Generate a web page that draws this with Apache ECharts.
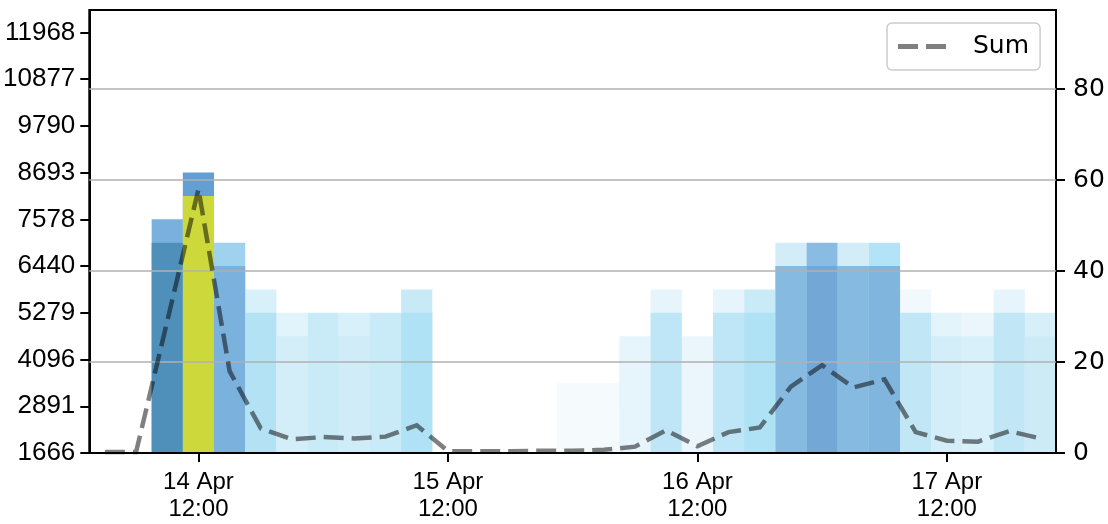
<!DOCTYPE html>
<html>
<head>
<meta charset="utf-8">
<script src="https://cdn.jsdelivr.net/npm/echarts@6/dist/echarts.min.js"></script>
<style>
html,body{margin:0;padding:0;background:#ffffff;}
#chart{width:1108px;height:524px;}
</style>
</head>
<body>
<div id="chart"></div>
<script>
// ---- data ----
const times = [
  '2024-04-14 03:00','2024-04-14 06:00','2024-04-14 09:00','2024-04-14 12:00','2024-04-14 15:00','2024-04-14 18:00','2024-04-14 21:00',
  '2024-04-15 00:00','2024-04-15 03:00','2024-04-15 06:00','2024-04-15 09:00','2024-04-15 12:00','2024-04-15 15:00','2024-04-15 18:00','2024-04-15 21:00',
  '2024-04-16 00:00','2024-04-16 03:00','2024-04-16 06:00','2024-04-16 09:00','2024-04-16 12:00','2024-04-16 15:00','2024-04-16 18:00','2024-04-16 21:00',
  '2024-04-17 00:00','2024-04-17 03:00','2024-04-17 06:00','2024-04-17 09:00','2024-04-17 12:00','2024-04-17 15:00','2024-04-17 18:00','2024-04-17 21:00'
];
// "Sum" dashed line (right axis)
const sumValues = [
  0.2, 0.2, 29, 58, 18, 5.4, 3.0,
  3.5, 3.2, 3.6, 6.1, 0.4, 0.4, 0.4, 0.5,
  0.5, 0.7, 1.4, 5.0, 1.5, 4.6, 5.6, 14.6,
  19.3, 14.4, 16.2, 4.6, 2.7, 2.5, 4.8, 3.2
];
// column heights on the left axis (tick-index units): full column and its lower block
const barTop = [
  0, 0, 5.0, 6.0, 4.5, 3.5, 3.0,
  3.0, 3.0, 3.0, 3.5, 0, 0, 0, 0,
  1.5, 1.5, 2.5, 3.5, 2.5, 3.5, 3.5, 4.5,
  4.5, 4.5, 4.5, 3.5, 3.0, 3.0, 3.5, 3.0
];
const barLower = [
  0, 0, 4.5, 5.5, 4.0, 3.0, 2.5,
  2.5, 2.5, 2.5, 3.0, 0, 0, 0, 0,
  1.0, 1.0, 2.0, 3.0, 2.0, 3.0, 3.0, 4.0,
  4.0, 4.0, 4.0, 3.0, 2.5, 2.5, 3.0, 2.5
];
const leftTickLabels = ['1666','2891','4096','5279','6440','7578','8693','9790','10877','11968'];
const rightTickValues = [0, 20, 40, 60, 80];
const xTickTimes = ['2024-04-14 12:00','2024-04-15 12:00','2024-04-16 12:00','2024-04-17 12:00'];
const xRange = ['2024-04-14 01:30','2024-04-17 22:30'];
const monthNames = ['Jan','Feb','Mar','Apr','May','Jun','Jul','Aug','Sep','Oct','Nov','Dec'];

// ---- styles ----
const lowerColors = [
  '#ffffff','#ffffff','#4f90bb','#cdd93b','#7ab1dd','#b3e2f5','#d3eef9',
  '#c9ebf7','#cfecf8','#c9ebf7','#b0e2f6','#ffffff','#ffffff','#ffffff','#ffffff',
  '#f5fafd','#f5fafd','#e6f5fb','#bfe6f7','#eaf6fc','#bfe6f7','#b0e2f6','#86bae0',
  '#73a8d6','#86bae0','#80b5de','#c1e7f7','#d4eef9','#d7f0fa','#c1e7f7','#cdebf7'
];
const upperColors = [
  '#ffffff','#ffffff','#79b0dd','#649fd3','#9fd2ee','#d7f0fa','#e2f4fb',
  '#c9ebf7','#d7f0fa','#c9ebf7','#c8eaf7','#ffffff','#ffffff','#ffffff','#ffffff',
  '#f5fafd','#f5fafd','#e6f5fb','#e6f5fc','#eaf6fc','#e6f5fc','#c9ebf7','#d3edf8',
  '#88bce2','#d3edf8','#b3e3f6','#f1f9fd','#e4f4fb','#eaf6fc','#e6f5fc','#d6eff9'
];

function parseUTC(s) {
  const [d, t] = s.split(' ');
  const [Y, M, D] = d.split('-').map(Number);
  const [h, m] = t.split(':').map(Number);
  return Date.UTC(Y, M - 1, D, h, m);
}
const ts = times.map(parseUTC);
const xTicks = xTickTimes.map(parseUTC);
const FONT = 'DejaVu Sans';
const FONT2 = 'Liberation Sans';

const topData = ts.map((t, i) => ({ value: [t, barTop[i]], itemStyle: { color: upperColors[i] } }));
const lowerData = ts.map((t, i) => ({ value: [t, barLower[i]], itemStyle: { color: lowerColors[i] } }));
const sumData = ts.map((t, i) => [t, sumValues[i]]);

const chart = echarts.init(document.getElementById('chart'), null, { renderer: 'canvas' });
chart.setOption({
  animation: false,
  backgroundColor: '#ffffff',
  grid: {
    left: 86, right: 52, top: 10, bottom: 71,
    show: true, borderColor: '#000000', borderWidth: 2, backgroundColor: 'transparent'
  },
  legend: {
    data: [{ name: 'Sum', icon: 'path://M0,0L20,0L20,5L0,5Z M28,0L48,0L48,5L28,5Z' }],
    left: 887, top: 23,
    padding: [11, 11, 11, 11],
    itemWidth: 48, itemHeight: 5,
    backgroundColor: 'rgba(255,255,255,0.8)',
    borderColor: '#cccccc', borderWidth: 1.5, borderRadius: 5,
    textStyle: { fontFamily: FONT, fontSize: 25, color: '#000000', padding: [0, 0, 0, 22] }
  },
  xAxis: {
    type: 'value',
    min: parseUTC(xRange[0]), max: parseUTC(xRange[1]),
    z: 3,
    axisLine: { show: true, onZero: false, lineStyle: { color: '#000000', width: 2 } },
    axisTick: { show: true, length: 9, customValues: xTicks, lineStyle: { color: '#000000', width: 2 } },
    axisLabel: {
      customValues: xTicks,
      fontFamily: FONT2, fontSize: 24, color: '#000000', margin: 16, lineHeight: 27,
      formatter: function (v) {
        const d = new Date(v);
        const hh = String(d.getUTCHours()).padStart(2, '0');
        const mm = String(d.getUTCMinutes()).padStart(2, '0');
        return d.getUTCDate() + ' ' + monthNames[d.getUTCMonth()] + '\n' + hh + ':' + mm;
      }
    },
    splitLine: { show: false }
  },
  yAxis: [
    {
      type: 'value', position: 'left', min: 0, max: 9.48, z: 3,
      axisLine: { show: true, lineStyle: { color: '#000000', width: 2 } },
      axisTick: { show: true, length: 9, customValues: [0,1,2,3,4,5,6,7,8,9], lineStyle: { color: '#000000', width: 2 } },
      axisLabel: {
        customValues: [0,1,2,3,4,5,6,7,8,9],
        fontFamily: FONT2, fontSize: 26, color: '#000000', margin: 14,
        formatter: function (v) { const k = Math.round(v); return Math.abs(v - k) < 1e-6 ? leftTickLabels[k] : ''; }
      },
      splitLine: { show: false }
    },
    {
      type: 'value', position: 'right', min: 0, max: 97.4, interval: 20, z: 3,
      axisLine: { show: true, lineStyle: { color: '#000000', width: 2 } },
      axisTick: { show: true, length: 9, customValues: rightTickValues, lineStyle: { color: '#000000', width: 2 } },
      axisLabel: {
        customValues: rightTickValues,
        fontFamily: FONT, fontSize: 25, color: '#000000', margin: 17,
        formatter: function (v) { return rightTickValues.indexOf(v) >= 0 ? String(v) : ''; }
      },
      splitLine: { show: false }
    }
  ],
  series: [
    {
      name: 'column', type: 'bar', xAxisIndex: 0, yAxisIndex: 0,
      barWidth: '100%', barGap: '-100%', data: topData, z: 2, silent: true
    },
    {
      name: 'lower', type: 'bar', xAxisIndex: 0, yAxisIndex: 0,
      barWidth: '100%', barGap: '-100%', data: lowerData, z: 2, silent: true
    },
    {
      name: 'Sum', type: 'line', xAxisIndex: 0, yAxisIndex: 1,
      data: sumData, symbol: 'none', showSymbol: false, smooth: false, z: 6,
      lineStyle: { color: 'rgba(0,0,0,0.5)', width: 4.5, type: [20, 8], cap: 'butt', join: 'miter' },
      itemStyle: { color: 'rgba(0,0,0,0.5)' },
      markLine: {
        silent: true, symbol: ['none', 'none'], label: { show: false }, z: 4,
        lineStyle: { color: '#b0b0b0', width: 1.6, type: 'solid' },
        emphasis: { disabled: true },
        data: rightTickValues.filter(v => v > 0).map(v => ({ yAxis: v }))
      }
    }
  ]
});
</script>
</body>
</html>
